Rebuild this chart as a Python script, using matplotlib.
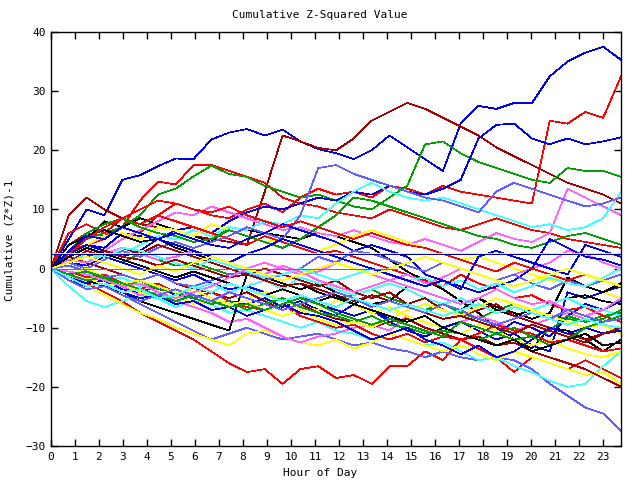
import matplotlib
matplotlib.use("Agg")
import matplotlib.pyplot as plt
import numpy as np

# colours used for the series (gnuplot-ish png palette)
R, DR, G, B = "#ff0000", "#a00000", "#00a000", "#0000e6"
DB, SB, M, C = "#0000a0", "#6060ff", "#ff60ff", "#40ffff"
Y, K = "#ffff00", "#000000"

# cumulative (Z*Z)-1, sampled every ~0.74 h from 0 to 23.75 h
series = [
    (B, [0, 5, 10, 9, 15, 15.8, 17.3, 18.6, 18.5, 21.8, 23,
         23.6, 22.5, 23.5, 21.5, 20.2, 19.5, 18.5, 20, 22.5, 20.5, 18.5,
         16.5, 24.5, 27.5, 27, 28, 28, 32.5, 35, 36.5, 37.5, 35.3]),
    (DR, [0, 9, 12, 10, 8.5, 7.5, 7, 6.5, 5.5, 5, 4.5,
          4, 13, 22.5, 21.5, 20.4, 20, 22, 25, 26.5, 28, 27,
          25.5, 24, 22.5, 20.5, 19, 17.5, 16, 14.5, 13.5, 12.5, 11]),
    (R, [0, 4, 6, 5.5, 7, 6, 9, 11, 10, 9, 8.5,
         10, 11, 9.5, 12, 13.5, 12.5, 13, 12, 14, 13.5, 12.5,
         14, 13, 12.5, 12, 11.5, 11, 25, 24.5, 26.5, 25.5, 32.5]),
    (R, [0, 3, 4, 5, 7, 11.5, 14.7, 14.2, 17.5, 17.5, 16.5,
         15.5, 14.5, 12, 11, 10.5, 9.5, 9, 8.5, 10, 9, 8,
         7, 6.5, 7.5, 8.5, 7.5, 6.5, 6, 5, 4.5, 4, 3.5]),
    (G, [0, 3, 5, 6, 7, 9, 12.5, 13.5, 15.6, 17.4, 16,
         15.5, 14, 13, 12, 12.5, 11.5, 10.5, 10, 12, 14, 21,
         21.5, 19.5, 18, 17, 16, 15, 14.5, 17, 16.5, 16.5, 15.5]),
    (B, [0, 2, 4, 3.5, 6, 5.5, 5, 6.5, 7, 6, 8,
         9.5, 10.5, 10, 11, 12, 11.5, 13, 12.5, 14, 13, 12.5,
         13.5, 15, 22, 24.3, 24.5, 22, 21, 22, 21, 21.5, 22.2]),
    (R, [0, -1, -2.5, -4, -5.5, -7.5, -9, -10.5, -12, -14, -16,
         -17.5, -17, -19.5, -17, -16.5, -18.5, -18, -19.5, -16.5, -16.5, -14,
         -15.5, -12, -13.5, -15, -17.5, -15, -16, -17, -15.5, -17, -18.5]),
    (SB, [0, -1, -2, -3, -4.5, -6, -7.5, -9, -10.5, -12, -11,
          -10, -11, -12, -11.5, -11, -12, -13, -12.5, -13.5, -14, -15,
          -14, -15, -15.5, -15, -15.5, -17, -19.5, -21.5, -23.5, -24.5, -27.5]),
    (C, [0, -3, -5.5, -6.5, -5.5, -4.5, -5, -6.5, -5.5, -6, -7.5,
         -7, -8, -9, -10, -9, -10.5, -11, -12, -11, -12, -13,
         -12.5, -14, -15.5, -15, -16.5, -17.5, -19, -20, -19.5, -16.5, -14]),
    (Y, [0, -1.5, -3, -4.5, -6, -7.5, -8.5, -10, -11, -12, -13,
         -11, -10.5, -11.5, -12.5, -13, -12, -13.5, -12.5, -11, -12, -13,
         -14, -13, -14.5, -15.5, -14, -15, -16, -17, -18, -17.5, -19.5]),
    (K, [0, 3, 5, 8, 7, 8.5, 7.5, 6.5, 5.5, 4.5, 7,
         6.5, 6, 5.5, 5, 6, 5.5, 4.5, 3.5, 1.5, -0.5, -2,
         -3.5, -5.5, -7.5, -10, -12, -13.5, -10, -10.5, -12, -14, -12]),
    (M, [0, 2, 4, 3, 5, 6.5, 8, 9.5, 9, 10.5, 9.5,
         8.5, 7.5, 6.5, 7, 6, 5.5, 6.5, 5.5, 4.5, 4, 5,
         4, 3, 4.5, 6, 5, 4.5, 6, 13.5, 12, 10.5, 9]),
    (M, [0, -1, -2.5, -2, -3, -4.5, -4, -5.5, -6.5, -7.5, -9,
         -8.5, -10, -11.5, -12.5, -11.5, -11, -10, -9.5, -10.5, -8, -9,
         -10, -9, -8, -9, -10.5, -9.5, -8.5, -7.5, -8.5, -9.5, -10]),
    (C, [0, 2, 1, 3, 2.5, 4, 5.5, 5, 6.5, 5.5, 7,
         6.5, 8, 7.5, 9, 8.5, 11, 13, 14.5, 13, 12, 11.5,
         12, 11, 10, 9, 8, 7, 7.5, 6.5, 7, 8.5, 13]),
    (G, [0, 1, 3, 2, 1, 2.5, 1.5, 0.5, 1, 0, -1,
         -0.5, -2, -3, -2.5, -4, -5, -4.5, -3.5, -5, -6, -7,
         -6, -7.5, -8.5, -7, -6, -7, -8, -8.5, -9, -8, -7.5]),
    (B, [0, -1.5, -2.5, -2, -3.5, -4, -3, -4.5, -5, -4, -5.5,
         -6, -5, -6.5, -5.5, -7, -8, -6, -7, -8.5, -9, -8,
         -10, -11, -12, -11, -9, -10, -11.5, -8, -6, -7, -5.5]),
    (B, [0, 1, 0.5, 2, 1, 0, -1, -2, -1, -2.5, -3.5,
         -3, -4, -5.5, -4.5, -6, -7, -8, -7, -9, -10.5, -11.5,
         -10, -9, -10.5, -12, -11, -13, -14, -4, -5, -4, -3]),
    (Y, [0, -0.5, -1.5, -3, -2.5, -4, -5, -4.5, -6, -5.5, -4,
         -5, -4, -5.5, -6.5, -7, -5.5, -6, -7.5, -6.5, -8, -9,
         -10, -11, -9.5, -10.5, -12, -13, -12, -13.5, -14.5, -15, -14]),
    (Y, [0, 2, 4, 5.5, 6, 5, 7, 6.5, 5.5, 7.5, 6.5,
         5.5, 4.5, 5, 4, 3, 4, 5.5, 6.5, 5.5, 4.5, 3.5,
         2.5, 1.5, 2, 1, 0, -1, -2, -1.5, -3, -4, -5]),
    (DR, [0, 2, 1, 0, -1, -2, -1, -2.5, -3.5, -4, -5,
          -4, -5.5, -7, -6, -7.5, -8.5, -9, -10, -9, -8.5, -10,
          -11, -12, -11.5, -13, -12.5, -14, -15, -16, -17, -18.5, -20]),
    (R, [0, 6, 7.5, 6, 8.5, 7.5, 9, 8, 7, 6, 5,
         4, 5.5, 4.5, 3.5, 2.5, 3, 2, 1, 0, -1, -2,
         -3, -1, -2.5, -3.5, -5, -4.5, -6, -7, -6.5, -8, -9]),
    (G, [0, 3, 6, 7.5, 8.5, 7, 6, 5.5, 4.5, 5, 6.5,
         5.5, 4.5, 3.5, 5, 7, 9, 12, 11.5, 10.5, 9.5, 8.5,
         7.5, 6.5, 5.5, 5, 4, 3.5, 4.5, 5.5, 6, 5, 4]),
    (SB, [0, 1, 0, 1.5, 3, 2, 3.5, 4.5, 3.5, 4.5, 5.5,
          7, 6, 5, 9, 17, 17.5, 16, 15, 14, 13, 12,
          11.5, 10.5, 9.5, 13, 14.5, 13.5, 12.5, 11.5, 10.5, 11, 12]),
    (K, [0, 4, 5.5, 6.5, 5.5, 4.5, 5, 3.5, 2.5, 1.5, 0.5,
         -0.5, -1.5, -2.5, -3.5, -2.5, -4, -5, -6, -5.5, -3, -4,
         -5, -6, -5, -7, -8, -7, -6, -5, -4.5, -5.5, -6]),
    (K, [0, -1, -2, -3, -4, -5.5, -6.5, -7.5, -8.5, -9.5, -10.5,
         -1, -2, -3, -2.5, -4, -5, -6, -4.5, -5.5, -6.5, -7.5,
         -6, -7, -5, -6.5, -7.5, -8.5, -7.5, -1.5, -3, -4, -2.5]),
    (C, [0, -1, -0.5, -2, -1.5, -3, -2.5, -4, -3.5, -2.5, -4,
         -3, -2, -3.5, -1.5, -2.5, -3.5, -4.5, -3.5, -2.5, -3.5, -5,
         -6, -5, -6.5, -5, -6, -7, -6, -5, -6.5, -7, -8]),
    (M, [0, 1.5, 1, 2.5, 3.5, 2.5, 1.5, 2, 3, 2, 1,
         0, 1, 0, -1, -0.5, 1, 0, -1, -2, -1, -2.5,
         -1.5, 0, -1, -2, -1, 0, 1, 3, 2.5, 1, 0]),
    (B, [0, 2.5, 4, 3, 2, 3, 5, 6, 5, 4, 3.5,
         5, 6, 7.5, 6.5, 5.5, 4.5, 3, 4, 3, 2, -1,
         -2, -3, -4, -3, -2, 0, 5, 3.5, 2, 1.5, 0.5]),
    (R, [0, -0.5, -1.5, -1, -2.5, -3.5, -2.5, -4, -5, -4, -5.5,
         -6.5, -7, -6, -8, -9, -10, -9.5, -11, -12, -11, -12.5,
         -11.5, -12, -11, -9.5, -10.5, -11, -12.5, -12, -13, -14, -13.5]),
    (DR, [0, 1, 3, 2, 3.5, 2.5, 4, 3, 2, 1, 0,
          -1, 0, -1, -2, -3, -2, -4, -5, -4, -6, -5,
          -7, -8, -7, -6, -8, -9, -10, -11, -12, -11, -10]),
    (G, [0, -1, -2, -1.5, -3, -2, -3.5, -4, -5, -6, -5.5,
         -7, -6, -5, -6.5, -7.5, -8, -9, -8, -9.5, -10, -11,
         -10.5, -11, -12, -11, -10, -11.5, -10.5, -8, -9, -8.5, -7]),
    (SB, [0, 0.5, -0.5, -1.5, -1, -2, -1, -2.5, -3, -2, -1,
          -0.5, -2, -1, 0, 2, 1, 3, 2.5, 1.5, 0.5, -0.5,
          1, 0, -1, -2, -1, -2.5, -3.5, -2, -3, -2, -1]),
    (Y, [0, -1, 0, -1.5, -2.5, -2, -3, -4, -3.5, -5, -6,
         -5.5, -7, -8, -7, -8.5, -9.5, -9, -10, -8.5, -7, -6,
         -7, -8, -6.5, -5, -6, -7, -8, -9, -10, -9.5, -11]),
    (C, [0, 1, 2.5, 2, 3.5, 3, 2, 1, 0, 1.5, 0.5,
         -0.5, -1.5, -1, 0, -1, -2, -1, 0, -1, -2, -1.5,
         -3, -2, -3.5, -2.5, -4, -3, -1.5, -2.5, -3, -1.5, 0]),
    (B, [0, -2, -3, -2.5, -4, -5, -4.5, -6, -5.5, -7, -6.5,
         -8, -7, -6, -7.5, -8, -9, -10.5, -12, -11, -10, -12,
         -13, -14.5, -13, -15, -14, -12, -10, -11, -10, -11, -10.5]),
    (R, [0, 2.5, 5, 7, 8.5, 10, 11.5, 11, 10, 9.5, 10.5,
         9, 8, 7, 8, 7, 6, 5, 6, 5, 4, 3.5,
         2.5, 1.5, 0.5, -0.5, 1, 0, -1, -2, -1, -2, -3]),
    (DR, [0, 1, 2, 3, 2, 1.5, 0.5, 1.5, 0.5, -0.5, -1.5,
          -1, -2, -3, -2.5, -3.5, -4.5, -5.5, -4.5, -5.5, -6.5, -7.5,
          -8.5, -8, -9, -10, -11, -9.5, -10.5, -11.5, -12.5, -11, -10]),
    (M, [0, -0.5, -1, -2, -3, -2.5, -4, -5, -4, -3, -1.5,
         0, -1, 0.5, -0.5, -2, -3, -4, -3, -2, -3, -4,
         -5, -6, -5, -3.5, -5, -6, -5.5, -7, -8, -7, -5]),
    (G, [0, -1, -0.5, -1.5, -2.5, -3.5, -4.5, -5.5, -4.5, -5.5, -6.5,
         -6, -7, -6, -5, -6, -7.5, -8.5, -9.5, -8.5, -9.5, -10.5,
         -11.5, -9, -10, -11, -12, -11.5, -13, -12, -10, -9, -8]),
    (B, [0, 3, 5.5, 5, 7, 6, 5, 4, 3, 2, 1,
         2.5, 3.5, 5, 4, 3, 2, 1, 0, -1, -2, -3,
         -2, -3.5, 2, 3, 2, 1, 0, -1, 4, 3, 2]),
    (SB, [0, -2, -3.5, -3, -4.5, -5.5, -4.5, -3.5, -4.5, -5.5, -4,
          -5, -6, -7, -6, -5, -4, -5, -6.5, -5.5, -6.5, -7.5,
          -6, -7, -8.5, -9.5, -8.5, -7.5, -8.5, -7, -8, -9, -8.5]),
    (K, [0, 2, 3.5, 2.5, 1.5, 0.5, -0.5, -1.5, -0.5, -1.5, -2.5,
         -3.5, -4.5, -3.5, -4.5, -5.5, -4.5, -6, -7, -8, -9, -8,
         -10, -11, -12, -13, -12, -14, -13, -12, -11, -13, -12.5]),
    (Y, [0, 1, 2, 1, 0, -1, 0.5, -0.5, 1, 2, 1,
         0, -1, -2, -1, 0, 1, 0, -1, 0, 1, 2,
         1, 0, -1, -2, -3, -2, -1, 0, -1, -2, -3]),
    (C, [0, -1.5, -3, -2.5, -4, -3.5, -5, -4.5, -3, -4, -2.5,
         -3.5, -4.5, -5.5, -4.5, -5.5, -6.5, -5, -6, -7, -6, -7,
         -8, -7, -6, -7.5, -6.5, -7.5, -8.5, -9.5, -8.5, -9.5, -10]),
]

zero_level, zero_end = 0.0, 14.4
yellow_level = 2.6
mean_level = 2.4

fig = plt.figure(figsize=(6.4, 4.8), dpi=100)
ax = fig.add_axes([51 / 640, 1 - 446 / 480, 570 / 640, 414 / 480])

lw = 0.5
for col, vals in series:
    hrs = np.linspace(0, 23.75, len(vals))
    ax.plot(hrs, vals, color=col, lw=lw, antialiased=False)

ax.hlines(zero_level, 0, zero_end, color=SB, lw=lw, antialiased=False)
ax.axhline(yellow_level, color=Y, lw=lw, antialiased=False)
ax.axhline(mean_level, color=DB, lw=lw, antialiased=False)

ax.set_xlim(0, 23.75)
ax.set_ylim(-30, 40)
ax.set_xticks(range(24))
ax.set_yticks(range(-30, 41, 10))
ax.tick_params(direction="in", top=True, right=True, length=5, width=1,
               labelsize=8, pad=4)
for lab in ax.get_xticklabels() + ax.get_yticklabels():
    lab.set_family("DejaVu Sans Mono")
for s in ax.spines.values():
    s.set_linewidth(1)

fig.text(0.5, 1 - 15 / 480, "Cumulative Z-Squared Value", ha="center",
         va="center", family="DejaVu Sans Mono", fontsize=8)
fig.text(0.5, 1 - 473 / 480, "Hour of Day", ha="center", va="center",
         family="DejaVu Sans Mono", fontsize=8)
fig.text(10 / 640, 0.5, "Cumulative (Z*Z)-1", ha="center", va="center",
         rotation=90, family="DejaVu Sans Mono", fontsize=8)

fig.savefig("out.png", dpi=100)
